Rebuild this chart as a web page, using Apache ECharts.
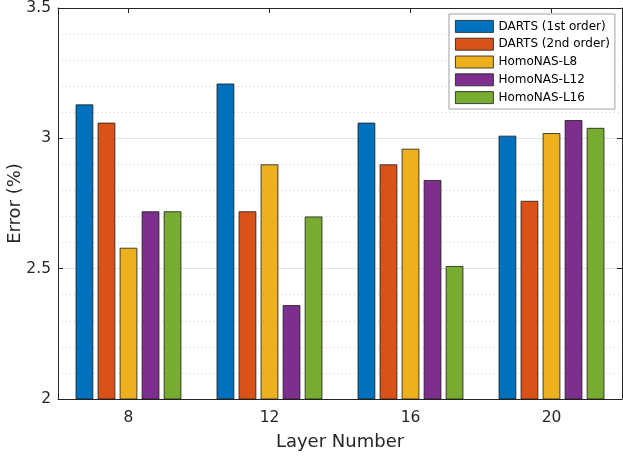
<!DOCTYPE html>
<html>
<head>
<meta charset="utf-8">
<script src="https://cdn.jsdelivr.net/npm/echarts@6/dist/echarts.min.js"></script>
<style>html,body{margin:0;padding:0;background:#fff}#c{width:623px;height:456px}</style>
</head>
<body>
<div id="c"></div>
<script>
const categories = ['8', '12', '16', '20'];
const seriesNames = ['DARTS (1st order)', 'DARTS (2nd order)', 'HomoNAS-L8', 'HomoNAS-L12', 'HomoNAS-L16'];
const darts1 = [3.13, 3.21, 3.06, 3.01];
const darts2 = [3.06, 2.72, 2.90, 2.76];
const homoL8 = [2.58, 2.90, 2.96, 3.02];
const homoL12 = [2.72, 2.36, 2.84, 3.07];
const homoL16 = [2.72, 2.70, 2.51, 3.04];
const colors = ['#0072BD', '#D95319', '#EDB120', '#7E2F8E', '#77AC30'];
const values = [darts1, darts2, homoL8, homoL12, homoL16];

const txt = '#262626';
const font = 'DejaVu Sans, sans-serif';
const chart = echarts.init(document.getElementById('c'), null, {renderer: 'canvas'});
chart.setOption({
  animation: false,
  backgroundColor: '#fff',
  grid: {left: 58, right: 1, top: 8, bottom: 57, outerBoundsMode: 'none', containLabel: false},
  legend: {
    orient: 'vertical', left: 449, top: 14,
    padding: [6, 5, 5, 6],
    icon: 'rect',
    itemWidth: 38, itemHeight: 12, itemGap: 5,
    itemStyle: {borderWidth: 0.8, borderColor: '#1a1a1a'},
    borderColor: '#a0a0a0', borderWidth: 1, backgroundColor: '#fff',
    textStyle: {fontFamily: font, fontSize: 12, color: '#000'},
    data: seriesNames
  },
  xAxis: [{
    type: 'category', data: categories, position: 'bottom',
    axisLine: {lineStyle: {color: txt, width: 1}},
    axisTick: {show: true, inside: true, alignWithLabel: true, length: 5, lineStyle: {color: txt}},
    axisLabel: {fontFamily: font, fontSize: 15.5, color: txt, margin: 11},
    name: 'Layer Number', nameLocation: 'middle', nameGap: 34, nameMoveOverlap: false,
    nameTextStyle: {fontFamily: font, fontSize: 18, color: txt},
    splitLine: {show: false}
  }, {
    type: 'category', data: categories, position: 'top',
    axisLine: {lineStyle: {color: txt, width: 1}},
    axisTick: {show: true, inside: true, alignWithLabel: true, length: 5, lineStyle: {color: txt}},
    axisLabel: {show: false}, splitLine: {show: false}
  }],
  yAxis: [{
    type: 'value', min: 2, max: 3.5, interval: 0.5, position: 'left',
    axisLine: {show: true, lineStyle: {color: txt, width: 1}},
    axisTick: {show: true, inside: true, length: 5, lineStyle: {color: txt}},
    axisLabel: {fontFamily: font, fontSize: 15.5, color: txt, margin: 7},
    name: 'Error (%)', nameLocation: 'middle', nameGap: 34, nameMoveOverlap: false,
    nameTextStyle: {fontFamily: font, fontSize: 18, color: txt},
    splitLine: {show: true, lineStyle: {color: '#e3e3e3', width: 1}},
    minorTick: {show: false, splitNumber: 5},
    minorSplitLine: {show: true, lineStyle: {color: '#cfcfcf', type: [1, 3], width: 1}}
  }, {
    type: 'value', min: 2, max: 3.5, interval: 0.5, position: 'right',
    axisLine: {show: true, lineStyle: {color: txt, width: 1}},
    axisTick: {show: true, inside: true, length: 5, lineStyle: {color: txt}},
    axisLabel: {show: false}, splitLine: {show: false}
  }],
  series: seriesNames.map((n, i) => ({
    name: n, type: 'bar', xAxisIndex: 0, yAxisIndex: 0,
    data: values[i],
    barCategoryGap: '25%', barGap: '25%',
    itemStyle: {color: colors[i], borderColor: '#1a1a1a', borderWidth: 0.8},
    z: 3
  }))
});
</script>
</body>
</html>
